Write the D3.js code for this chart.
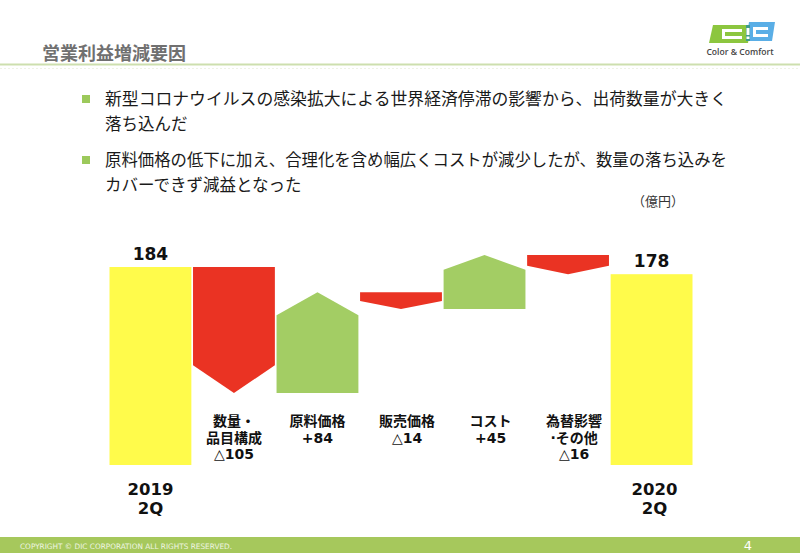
<!DOCTYPE html>
<html><head><meta charset="utf-8">
<script src="https://cdn.jsdelivr.net/npm/d3@7"></script>
<style>
html,body{margin:0;padding:0;background:#fff;}
svg{display:block;}
</style></head>
<body>
<svg id="c" width="800" height="553"></svg>
<script>
// ---- data ----
const title = "営業利益増減要因";
const bullets = [
  ["新型コロナウイルスの感染拡大による世界経済停滞の影響から、出荷数量が大きく", "落ち込んだ"],
  ["原料価格の低下に加え、合理化を含め幅広くコストが減少したが、数量の落ち込みを", "カバーできず減益となった"]
];
const unitLabel = "（億円）";
const startLabel = ["2019", "2Q"];
const endLabel = ["2020", "2Q"];
const startValue = 184;
const endValue = 178;
const factorNames = [["数量・", "品目構成"], ["原料価格"], ["販売価格"], ["コスト"], ["為替影響", "·その他"]];
const factorDeltas = [-105, 84, -14, 45, -16];
const footerText = "COPYRIGHT © DIC CORPORATION ALL RIGHTS RESERVED.";
const pageNo = "4";

// ---- drawing ----
const svg = d3.select("#c");
const JP = "'Noto Sans CJK JP','Noto Sans',sans-serif";
const NUM = "'DejaVu Sans','Noto Sans CJK JP',sans-serif";
const YEL = "#fffb4b", RED = "#ea3323", GRN = "#a3cd64";

// header
svg.append("text").attr("x", 42).attr("y", 60).text(title)
  .attr("font-family", JP).attr("font-weight", "bold").attr("font-size", 18).attr("fill", "#707070");
svg.append("line").attr("x1", 0).attr("x2", 800).attr("y1", 64.5).attr("y2", 64.5)
  .attr("stroke", "#cddfae").attr("stroke-width", 2);
svg.append("line").attr("x1", 0).attr("x2", 800).attr("y1", 68.5).attr("y2", 68.5)
  .attr("stroke", "#eef3e4").attr("stroke-width", 1).attr("stroke-dasharray", "2,2");

// logo
const logo = svg.append("g");
logo.append("polygon").attr("points", "713,25 751,25 748,43 709,43").attr("fill", "#8cc63f");
logo.append("polygon").attr("points", "749,22 775,22 772,41 746,41").attr("fill", "#5aaee6");
logo.append("rect").attr("x", 746).attr("y", 25).attr("width", 4).attr("height", 16).attr("fill", "#3f9c8c");
logo.append("rect").attr("x", 722).attr("y", 29).attr("width", 20).attr("height", 10).attr("fill", "#fff");
logo.append("rect").attr("x", 725).attr("y", 32).attr("width", 17).attr("height", 4).attr("fill", "#8cc63f");
logo.append("rect").attr("x", 746.5).attr("y", 28).attr("width", 3).attr("height", 7).attr("fill", "#fff");
logo.append("rect").attr("x", 746.5).attr("y", 36.5).attr("width", 3).attr("height", 2.5).attr("fill", "#fff");
logo.append("rect").attr("x", 753).attr("y", 27).attr("width", 15).attr("height", 10).attr("fill", "#fff");
logo.append("rect").attr("x", 756).attr("y", 30).attr("width", 12).attr("height", 4).attr("fill", "#5aaee6");
logo.append("text").attr("x", 740).attr("y", 55).text("Color & Comfort").attr("font-family", "'Open Sans',sans-serif")
  .attr("font-size", 8.6).attr("font-weight", 600).attr("fill", "#444").attr("text-anchor", "middle");

// bullets
const bulletTop = [105, 166];
bullets.forEach((lines, i) => {
  const by = bulletTop[i];
  svg.append("rect").attr("x", 82).attr("y", by - 10).attr("width", 8).attr("height", 8).attr("fill", "#9cc95b");
  lines.forEach((ln, j) => {
    const t = svg.append("text").attr("x", 105).attr("y", by + j * 24.5).text(ln)
      .attr("font-family", JP).attr("font-size", 16.5).attr("fill", "#1a1a1a");
    if (j === 0) t.attr("textLength", 622).attr("lengthAdjust", "spacingAndGlyphs");
  });
});
svg.append("text").attr("x", 684).attr("y", 206).text(unitLabel).attr("text-anchor", "end")
  .attr("font-family", JP).attr("font-size", 13).attr("fill", "#333");

// waterfall
const steps = [];
let cum = startValue;
steps.push({type: "total", start: 0, end: startValue, label: startLabel});
factorDeltas.forEach((d, i) => {
  steps.push({type: d < 0 ? "neg" : "pos", start: cum, end: cum + d, delta: d, name: factorNames[i]});
  cum += d;
});
steps.push({type: "total", start: 0, end: endValue, label: endLabel});

const x = d3.scaleBand().domain(d3.range(steps.length)).range([109.5, 692.5]).paddingInner(0.02);
const baseValue = 19; // axis is truncated: bars start from this value
const y = d3.scaleLinear().domain([baseValue, startValue]).range([465, 267]);

const g = svg.append("g");
steps.forEach((s, i) => {
  const x0 = x(i), x1 = x(i) + x.bandwidth(), xc = x0 + x.bandwidth() / 2;
  if (s.type === "total") {
    g.append("rect").attr("x", x0).attr("y", y(s.end)).attr("width", x.bandwidth())
      .attr("height", y(baseValue) - y(s.end)).attr("fill", YEL);
    g.append("text").attr("x", xc).attr("y", y(s.end) - 7).text(s.end)
      .attr("text-anchor", "middle").attr("font-family", NUM).attr("font-weight", "bold")
      .attr("font-size", 17).attr("fill", "#111");
    s.label.forEach((ln, j) => {
      g.append("text").attr("x", xc + (i === 0 ? 0 : 3)).attr("y", 494.5 + j * 19).text(ln)
        .attr("text-anchor", "middle").attr("font-family", NUM).attr("font-weight", "bold")
        .attr("font-size", 16.5).attr("fill", "#111");
    });
  } else {
    const ys = y(s.start), ye = y(s.end);
    const len = Math.abs(ye - ys);
    const head = 0.18 * len + 5;
    const shoulder = s.type === "neg" ? ye - head : ye + head;
    const pts = [[x0, ys], [x1, ys], [x1, shoulder], [xc, ye], [x0, shoulder]];
    g.append("polygon").attr("points", pts.map(p => p.join(",")).join(" "))
      .attr("fill", s.type === "neg" ? RED : GRN);
    const lines = s.name.concat([(s.delta < 0 ? "△" : "+") + Math.abs(s.delta)]);
    lines.forEach((ln, j) => {
      g.append("text").attr("x", xc + (i >= 3 ? 6 : 0)).attr("y", 426 + j * 16.5).text(ln)
        .attr("text-anchor", "middle").attr("font-family", NUM).attr("font-weight", "bold")
        .attr("font-size", 14).attr("fill", "#111");
    });
  }
});

// footer
svg.append("rect").attr("x", 0).attr("y", 537).attr("width", 800).attr("height", 16).attr("fill", "#a6c85c");
svg.append("text").attr("x", 20).attr("y", 548.5).text(footerText)
  .attr("font-family", "'DejaVu Sans Condensed','DejaVu Sans',sans-serif").attr("font-size", 7.5)
  .attr("fill", "#eef5e2").attr("textLength", 212).attr("lengthAdjust", "spacingAndGlyphs");
svg.append("text").attr("x", 748).attr("y", 550).text(pageNo).attr("text-anchor", "middle")
  .attr("font-family", NUM).attr("font-size", 13).attr("fill", "#fff");
</script>
</body></html>
